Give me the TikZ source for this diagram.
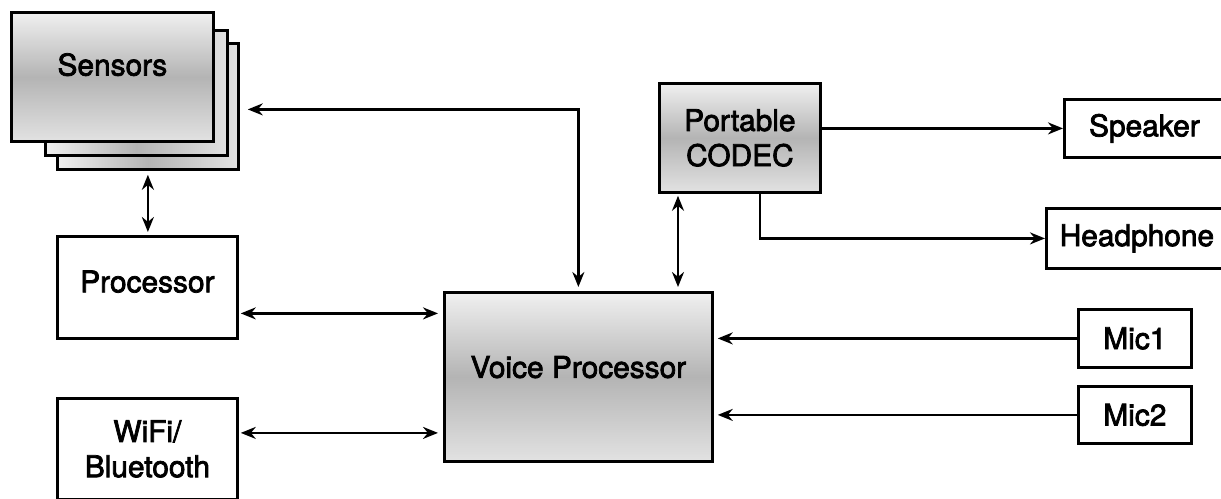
\documentclass[tikz,border=0pt]{standalone}
\usepackage{fontspec}
\setmainfont{TeX Gyre Heros}[BoldFont=*, BoldFeatures={FakeBold=2.5}]
\usepackage{tikz}
\usetikzlibrary{arrows.meta,
  positioning,
  calc
}

\definecolor{shadelight}{HTML}{F0F0F0}
\definecolor{shadedark}{HTML}{B4B4B4}
\definecolor{shadebottom}{HTML}{E2E2E2}

\begin{document}
\begin{tikzpicture}[x=0.02cm, y=-0.02cm, >={Stealth[length=0.3cm, width=0.24cm]},
  every node/.style={align=center, inner sep=0pt, font=\fontsize{17}{20}\selectfont\bfseries}]

        % Stile
        \tikzstyle{block}=[draw, rectangle, line width=1.6pt, fill=white, anchor=north west]
        \tikzstyle{shaded}=[block, top color=shadelight, bottom color=shadebottom, middle color=shadedark]
        \tikzstyle{stack}=[block, left color=shadelight, right color=shadebottom, middle color=shadedark]
        \tikzstyle{link}=[line width=1.3pt]

        \path[use as bounding box, clip] (0,0) rectangle (1221,498);

        % Sensoren (Stapel)
        \node[stack, minimum width=3.62cm, minimum height=2.52cm] (sens3) at (56,42) {};
        \node[stack, minimum width=3.64cm, minimum height=2.5cm] (sens2) at (44,29) {};
        \node[shaded, minimum width=4.04cm, minimum height=2.58cm, text depth=0.5cm] (sens) at (10,11) {Sensors};

        % linke Seite
        \node[block, minimum width=3.6cm, minimum height=2.04cm, text depth=0.24cm] (proc) at (56,235) {Processor};
        \node[block, minimum width=3.6cm, minimum height=2.02cm] (wifi) at (56,397) {WiFi/\\Bluetooth};

        % Mitte
        \node[shaded, minimum width=5.36cm, minimum height=3.38cm, text depth=0.4cm] (vp) at (443,291) {Voice Processor};
        \node[shaded, minimum width=3.22cm, minimum height=2.18cm] (codec) at (658,82) {Portable\\CODEC};

        % rechte Seite
        \node[block, minimum width=3.2cm, minimum height=1.16cm] (spk) at (1063,98) {Speaker};
        \node[block, minimum width=3.62cm, minimum height=1.2cm] (hp) at (1045,207) {Headphone};
        \node[block, minimum width=2.26cm, minimum height=1.16cm] (mic1) at (1077,308) {Mic1};
        \node[block, minimum width=2.26cm, minimum height=1.14cm] (mic2) at (1077,385) {Mic2};

        % Verbindungen links
        \draw[link, <->, shorten <=0.08cm, shorten >=0.06cm] (sens3.south) -- (sens3.south |- proc.north);
        \draw[link, <->, shorten <=0.08cm] (vp.north) |- ($(sens3.east)+(8,3)$);
        \draw[link, <->, shorten >=0.1cm] ($(proc.east)+(2,26)$) -- ($(proc.east -| vp.west)+(0,26)$);
        \draw[link, <->, shorten >=0.1cm] ($(wifi.east)+(2,-16)$) -- ($(wifi.east -| vp.west)+(0,-16)$);

        % CODEC
        \draw[link, <->, shorten <=0.04cm, shorten >=0.08cm] ($(codec.south west)+(20,0)$) -- ($(codec.south west |- vp.north)+(20,0)$);
        \draw[link, ->] (codec.east |- spk.west) -- (spk.west);
        \draw[link, ->] ($(codec.south)+(20,0)$) |- (hp.west);

        % Mikrofone
        \draw[link, ->, shorten >=0.08cm] (mic1.west) -- (mic1.west -| vp.east);
        \draw[link, ->, shorten >=0.08cm] (mic2.west) -- (mic2.west -| vp.east);
\end{tikzpicture}
\end{document}
